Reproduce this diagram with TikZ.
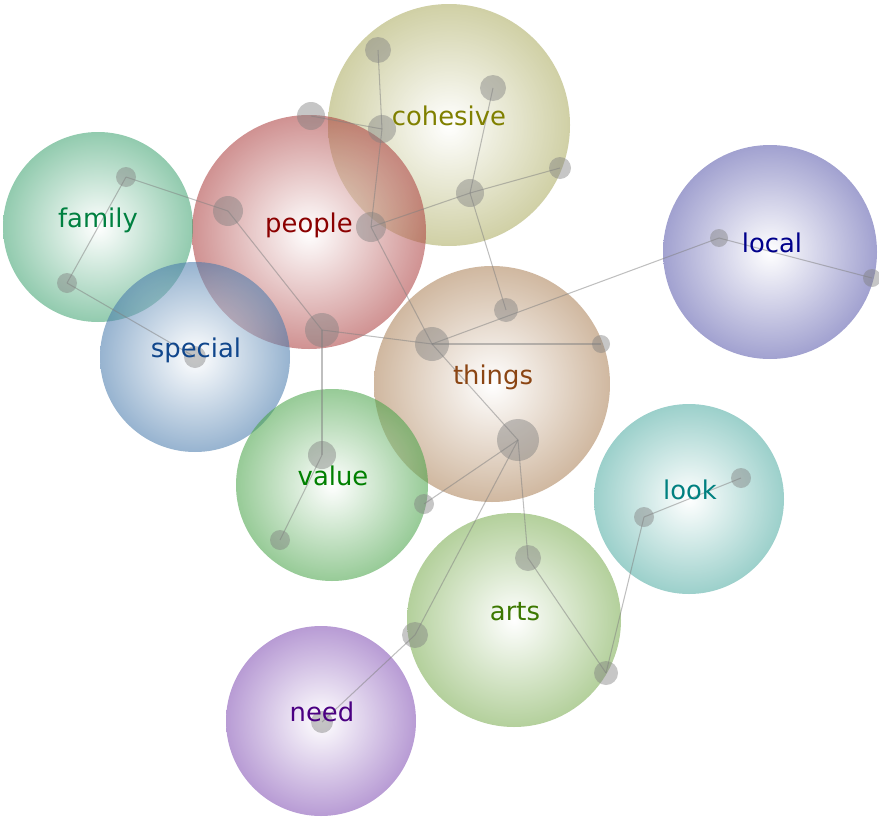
\documentclass[tikz,border=0pt]{standalone}
\usepackage{fontspec}
\setmainfont{DejaVu Sans}
\usetikzlibrary{positioning}
\definecolor{cohesiveball}{RGB}{172,172,97}
\definecolor{peopleball}{RGB}{172,63,63}
\definecolor{familyball}{RGB}{63,163,113}
\definecolor{specialball}{RGB}{72,122,172}
\definecolor{thingsball}{RGB}{172,130,88}
\definecolor{valueball}{RGB}{72,163,72}
\definecolor{artsball}{RGB}{122,172,80}
\definecolor{needball}{RGB}{130,80,180}
\definecolor{localball}{RGB}{90,90,172}
\definecolor{lookball}{RGB}{80,172,163}
\definecolor{cohesiveword}{RGB}{128,128,0}
\definecolor{peopleword}{RGB}{139,0,0}
\definecolor{familyword}{RGB}{0,128,64}
\definecolor{specialword}{RGB}{16,70,140}
\definecolor{thingsword}{RGB}{139,69,19}
\definecolor{valueword}{RGB}{0,128,0}
\definecolor{artsword}{RGB}{60,120,0}
\definecolor{needword}{RGB}{75,0,130}
\definecolor{localword}{RGB}{0,0,139}
\definecolor{lookword}{RGB}{0,128,128}

\begin{document}
\begin{tikzpicture}[x=0.02cm, y=-0.02cm,
		bubble/.style={circle, inner sep=0pt, inner color=white, opacity=0.57},
		dot/.style={circle, inner sep=0pt, fill=gray, fill opacity=0.45},
		link/.style={gray, opacity=0.5, line width=0.6pt},
		word/.style={anchor=base, font=\fontsize{14.7}{17}\selectfont}]
	\useasboundingbox (0,0) rectangle (879,818);
	% topic bubbles
	\foreach \n/\x/\y/\r in {cohesive/449/125/121, people/309/232/117, family/98/227/95,
		special/195/357/95, things/492/384/118, value/332/485/96, arts/514/620/107,
		need/321/721/95, local/770/252/107, look/689/499/95}
		\node[bubble, outer color=\n ball, minimum size=2*\r*0.02cm] (\n) at (\x,\y) {};
	% word points
	\foreach \n/\x/\y/\r in {coh1/378/50/13, coh2/493/88/13, top1/311/116/14, coh3/382/129/14,
		coh4/560/168/11, coh5/470/193/14, peo1/228/211/15, peo2/371/227/15, peo3/322/330/17,
		thi1/506/310/12, thi2/432/344/17, thi3/601/344/9, thi4/518/440/21, val1/322/455/14,
		val2/280/540/10, val3/424/504/10, art1/528/558/13, art2/415/635/13, art3/606/673/12,
		nee1/322/722/11, loc1/719/238/9, loc2/872/278/9, loo1/644/517/10, loo2/741/478/10,
		fam1/126/177/10, fam2/67/283/10, spe1/195/357/11}
		\coordinate (\n) at (\x,\y);
	\foreach \a/\b in {coh1/coh3, top1/coh3, coh3/peo2, coh2/coh5, coh4/coh5, coh5/peo2,
		coh5/thi1, peo2/thi2, fam1/peo1, peo1/peo3, peo3/thi2, peo3/val1, val1/val2,
		thi2/thi3, thi2/loc1, loc1/loc2, thi2/thi4, thi4/val3, thi4/art2, art2/nee1,
		thi4/art1, art1/art3, art3/loo1, loo1/loo2, fam1/fam2, fam2/spe1}
		\draw[link] (\a) -- (\b);
	\foreach \n/\x/\y/\r in {coh1/378/50/13, coh2/493/88/13, top1/311/116/14, coh3/382/129/14,
		coh4/560/168/11, coh5/470/193/14, peo1/228/211/15, peo2/371/227/15, peo3/322/330/17,
		thi1/506/310/12, thi2/432/344/17, thi3/601/344/9, thi4/518/440/21, val1/322/455/14,
		val2/280/540/10, val3/424/504/10, art1/528/558/13, art2/415/635/13, art3/606/673/12,
		nee1/322/722/11, loc1/719/238/9, loc2/872/278/9, loo1/644/517/10, loo2/741/478/10,
		fam1/126/177/10, fam2/67/283/10, spe1/195/357/11}
		\node[dot, minimum size=2*\r*0.02cm] at (\n) {};
	% labels
	\foreach \n/\dx in {cohesive/0, people/0, family/0, special/1, things/1,
		value/1, arts/1, need/1, local/2, look/1}
		\node[word, text=\n word] at ([xshift=\dx*0.02cm]\n.center) {\n};
\end{tikzpicture}
\end{document}
